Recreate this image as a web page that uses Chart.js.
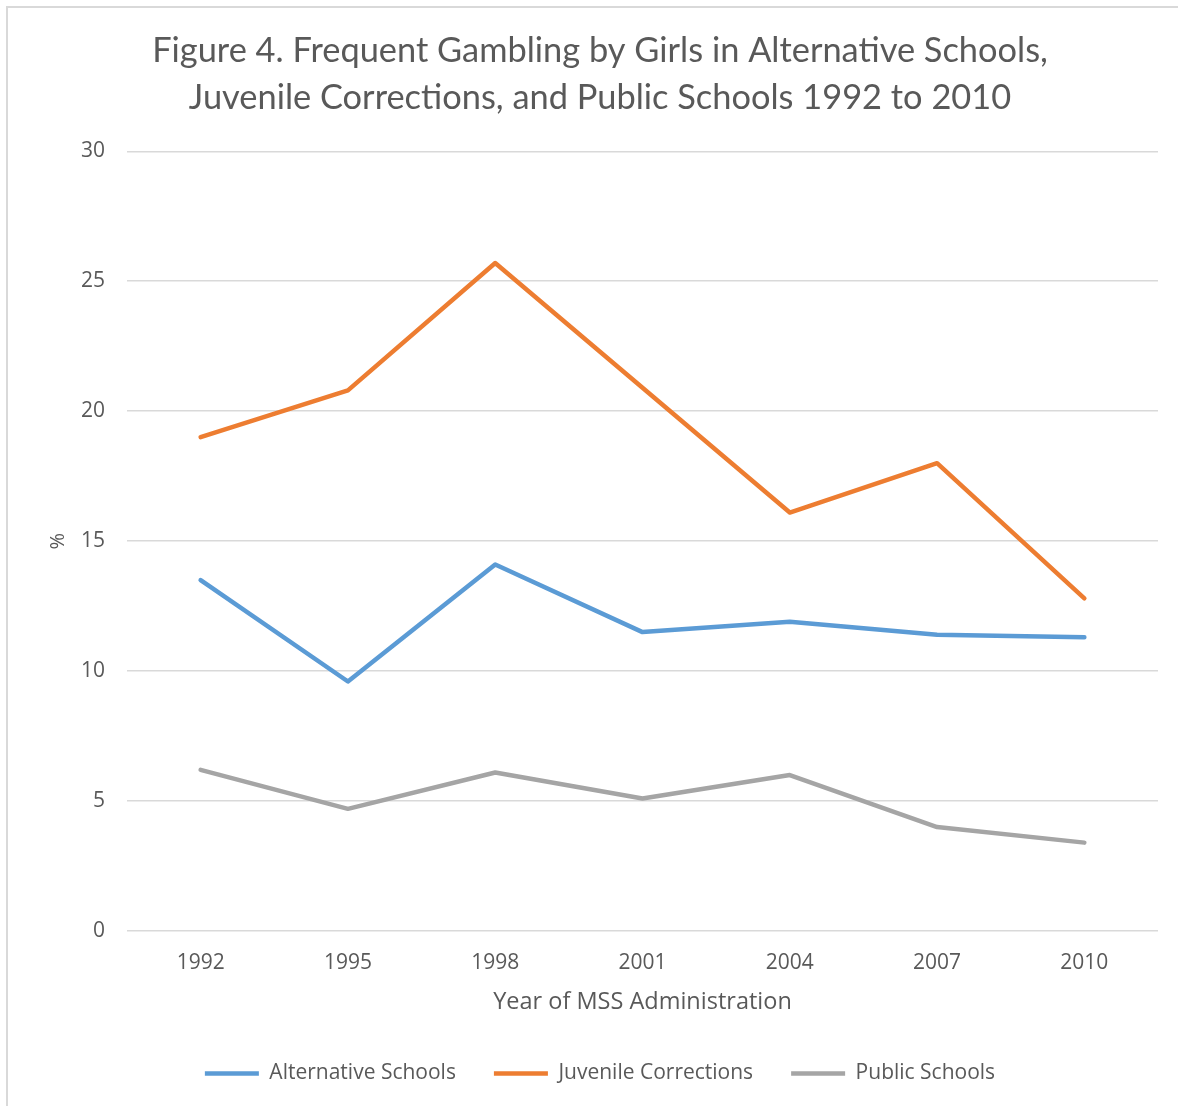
<!DOCTYPE html>
<html>
<head>
<meta charset="utf-8">
<script src="https://cdn.jsdelivr.net/npm/chart.js@4.4.1/dist/chart.umd.min.js"></script>
<style>
  html, body { margin: 0; padding: 0; background: #fff; overflow: hidden; }
  #wrap {
    position: absolute; left: 0; top: 0;
    width: 1178px; height: 1106px;
  }
  /* chart area frame, only the top and left edges are in view */
  #frame {
    position: absolute; left: 6px; top: 6px;
    width: 1200px; height: 1200px;
    border-left: 2px solid #d9d9d9; border-top: 2px solid #d9d9d9;
    pointer-events: none;
  }
</style>
</head>
<body>
<div id="wrap">
  <canvas id="gamblingChart" width="1178" height="1106"></canvas>
  <div id="frame"></div>
</div>
<script>
// survey years and percentages per setting
const years = ["1992", "1995", "1998", "2001", "2004", "2007", "2010"];
const alternativeSchools = [13.5, 9.6, 14.1, 11.5, 11.9, 11.4, 11.3];
const juvenileCorrections = [19.0, 20.8, 25.7, 20.9, 16.1, 18.0, 12.8];
const publicSchools = [6.2, 4.7, 6.1, 5.1, 6.0, 4.0, 3.4];
const yTicks = [0, 5, 10, 15, 20, 25, 30];

const textColor = "#595959";
const gridColor = "#d9d9d9";
const axisFont = "'Open Sans', sans-serif";

const makeLine = (label, data, color) => ({
  label: label,
  data: data,
  borderColor: color,
  backgroundColor: color,
  borderWidth: 4.5,
  borderCapStyle: "round",
  borderJoinStyle: "round",
  pointRadius: 0,
  pointHoverRadius: 0,
  tension: 0,
  fill: false,
});

new Chart(document.getElementById("gamblingChart").getContext("2d"), {
  type: "line",
  data: {
    labels: years,
    datasets: [
      makeLine("Alternative Schools", alternativeSchools, "#5b9bd5"),
      makeLine("Juvenile Corrections", juvenileCorrections, "#ed7d31"),
      makeLine("Public Schools", publicSchools, "#a5a5a5"),
    ],
  },
  options: {
    responsive: false,
    animation: false,
    devicePixelRatio: 1,
    layout: { padding: { left: 42, right: 20, top: 0, bottom: 12 } },
    plugins: {
      title: {
        display: true,
        text: [
          "Figure 4. Frequent Gambling by Girls in Alternative Schools,",
          "Juvenile Corrections, and Public Schools 1992 to 2010",
        ],
        color: textColor,
        font: { family: "Lato, sans-serif", size: 34.4, weight: "normal", lineHeight: 1.37 },
        padding: { top: 27, bottom: 30 },
      },
      legend: {
        position: "bottom",
        labels: {
          color: textColor,
          font: { family: axisFont, size: 21 },
          usePointStyle: true,
          pointStyle: "line",
          pointStyleWidth: 54,
          padding: 38,
        },
      },
      tooltip: { enabled: false },
    },
    scales: {
      x: {
        offset: true,
        grid: { display: false, drawTicks: false },
        border: { display: false },
        ticks: { color: textColor, font: { family: axisFont, size: 21 }, padding: 19 },
        title: {
          display: true,
          text: "Year of MSS Administration",
          color: textColor,
          font: { family: axisFont, size: 23.5 },
          padding: { top: 1, bottom: 9 },
        },
        afterFit: (scale) => { scale.height = 94; },
      },
      y: {
        min: 0,
        max: 30,
        afterBuildTicks: (scale) => { scale.ticks = yTicks.map((v) => ({ value: v })); },
        grid: { color: gridColor, lineWidth: 1.5, drawTicks: false },
        border: { display: false },
        ticks: { color: textColor, font: { family: axisFont, size: 21 }, padding: 22 },
        title: {
          display: true,
          text: "%",
          color: textColor,
          font: { family: axisFont, size: 20 },
          padding: { top: 4, bottom: 4 },
        },
        afterFit: (scale) => { scale.width = 85; },
      },
    },
  },
});
</script>
</body>
</html>
